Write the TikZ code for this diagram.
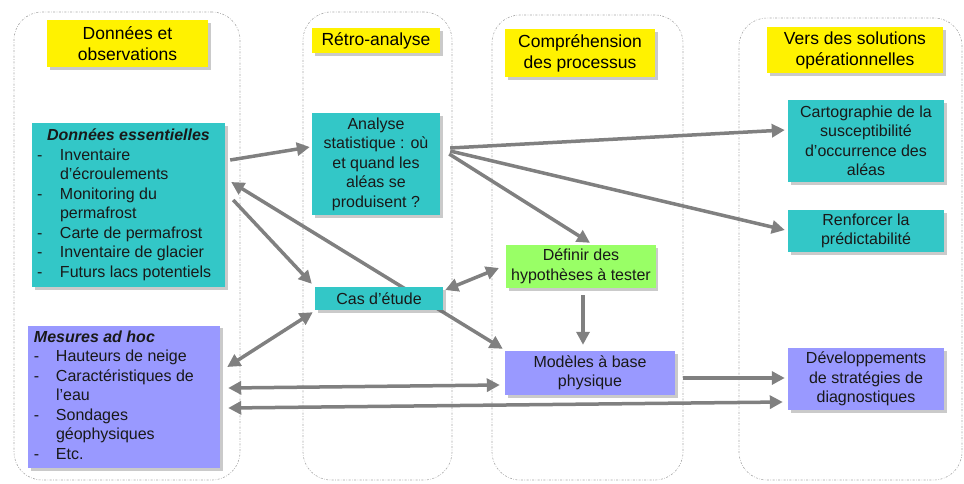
\documentclass[tikz,border=0pt]{standalone}
\usepackage{fontspec}
\setmainfont{Liberation Sans}
\usepackage{xcolor}
\usepackage{array}
\usepackage{tikz}
\usetikzlibrary{arrows.meta,shadows,backgrounds}

\definecolor{tealfill}{RGB}{51,199,199}
\definecolor{violetfill}{RGB}{153,153,255}
\definecolor{greenfill}{RGB}{153,255,102}
\definecolor{flowgray}{RGB}{128,128,128}

\tikzset{
  lane/.style={draw=gray!70, dash pattern=on 2pt off 1.5pt on 0.6pt off 1.5pt, line width=0.6pt, rounded corners=28pt},
  softshadow/.style={drop shadow={shadow xshift=2.5pt, shadow yshift=-2.5pt, fill=black!60, opacity=0.35}},
  header/.style={fill=yellow, align=center, inner sep=2pt, softshadow, font=\fontsize{17.5}{21}\selectfont},
  procbox/.style={align=center, inner xsep=5pt, inner ysep=3pt, softshadow, text=black!90, font=\fontsize{16}{19.5}\selectfont},
  tealbox/.style={procbox, fill=tealfill},
  violetbox/.style={procbox, fill=violetfill},
  greenbox/.style={procbox, fill=greenfill},
  flow/.style={draw=flowgray, line width=3.5pt, -{Triangle[length=13pt,width=13pt]}},
  flowboth/.style={flow, {Triangle[length=13pt,width=13pt]}-{Triangle[length=13pt,width=13pt]}}
}

\begin{document}
\begin{tikzpicture}[x=1pt, y=-1pt]
\useasboundingbox (0,0) rectangle (964,483);

% headers
\node (hdata) [header, minimum width=161pt, minimum height=47pt] at (127.5,43.5) {Données et\\observations};

\node (hretro) [header, minimum width=128pt, minimum height=25pt] at (376,40.5) {Rétro-analyse};

\node (hcomp) [header, minimum width=150pt, minimum height=48pt] at (580,53) {Compréhension\\des processus};

\node (hsol) [header, minimum width=176pt, minimum height=46pt] at (855,50) {Vers des solutions\\opérationnelles};

% data boxes
\node (ess) [tealbox, minimum width=193pt, minimum height=164pt] at (128.5,205) {%
\begin{tabular}{@{}p{6pt}@{\hspace{17pt}}p{160pt}@{}}
\multicolumn{2}{c}{\bfseries\itshape Données essentielles}\\
- & Inventaire\\
  & d’écroulements\\
- & Monitoring du\\
  & permafrost\\
- & Carte de permafrost\\
- & Inventaire de glacier\\
- & Futurs lacs potentiels
\end{tabular}};

\node (mesures) [violetbox, inner xsep=6pt, minimum width=192pt, minimum height=142pt] at (124,397) {%
\begin{tabular}{@{}p{6pt}@{\hspace{16pt}}p{158pt}@{}}
\multicolumn{2}{@{}l@{}}{\bfseries\itshape Mesures ad hoc}\\
- & Hauteurs de neige\\
- & Caractéristiques de\\
  & l'eau\\
- & Sondages\\
  & géophysiques\\
- & Etc.
\end{tabular}};

% middle columns
\node (analyse) [tealbox, minimum width=128pt, minimum height=102pt] at (376,164) {Analyse\\statistique : où\\et quand les\\aléas se\\produisent ?};

\node (cas) [tealbox, minimum width=128pt, minimum height=23pt, inner ysep=1pt] at (379,298.5) {Cas d’étude};

\node (definir) [greenbox, minimum width=148pt, minimum height=43pt] at (581,266.5) {Définir des\\hypothèses à tester};

\node (modeles) [violetbox, minimum width=170pt, minimum height=44pt] at (590,373) {Modèles à base\\physique};

% solutions
\node (carto) [tealbox, minimum width=156pt, minimum height=82pt] at (866,141) {Cartographie de la\\susceptibilité\\d’occurrence des\\aléas};

\node (renf) [tealbox, minimum width=156pt, minimum height=42pt] at (866,231) {Renforcer la\\prédictabilité};

\node (dev) [violetbox, minimum width=156pt, minimum height=62pt] at (866,379) {Développements\\de stratégies de\\diagnostiques};

\begin{pgfonlayer}{background}
\node (lane1) [lane, minimum width=226pt, minimum height=468pt] at (127,246) {};
\node (lane2) [lane, minimum width=149pt, minimum height=468pt] at (377.5,246) {};
\node (lane3) [lane, minimum width=191pt, minimum height=465pt] at (587.5,247.5) {};
\node (lane4) [lane, minimum width=223pt, minimum height=462pt] at (850.5,249) {};
\draw[flowboth] ([xshift=6pt,yshift=23pt]ess.east) -- ([xshift=-2pt,yshift=2pt]modeles.north west);
\end{pgfonlayer}

\draw[flow] ([xshift=5pt,yshift=45pt]ess.east) -- ([xshift=-2pt,yshift=17pt]analyse.west);
\draw[flow] ([xshift=8pt,yshift=5pt]ess.east) -- ([xshift=-3pt,yshift=3pt]cas.north west);
\draw[flow] ([xshift=10pt,yshift=16pt]analyse.east) -- ([xshift=-3pt,yshift=11pt]carto.west);
\draw[flow] ([xshift=10pt,yshift=13pt]analyse.east) -- ([xshift=-3pt,yshift=1pt]renf.west);
\draw[flow] ([xshift=9pt,yshift=10pt]analyse.east) -- ([xshift=9pt,yshift=2pt]definir.north);
\draw[flowboth] ([xshift=2pt,yshift=8.5pt]cas.east) -- ([xshift=-7pt,yshift=-1.5pt]definir.west);
\draw[flowboth] ([xshift=7pt,yshift=30pt]mesures.east) -- ([xshift=-2pt,yshift=-2pt]cas.south west);
\draw[flowboth] ([xshift=8pt,yshift=9pt]mesures.east) -- ([xshift=-5pt,yshift=-12pt]modeles.west);
\draw[flowboth] ([xshift=8pt,yshift=-11pt]mesures.east) -- ([xshift=-5pt,yshift=-23pt]dev.west);
\draw[flow] ([xshift=2pt,yshift=-7pt]definir.south) -- ([xshift=-7pt,yshift=6pt]modeles.north);
\draw[flow] ([xshift=8pt,yshift=-5pt]modeles.east) -- ([xshift=-3pt,yshift=1pt]dev.west);

\end{tikzpicture}
\end{document}
